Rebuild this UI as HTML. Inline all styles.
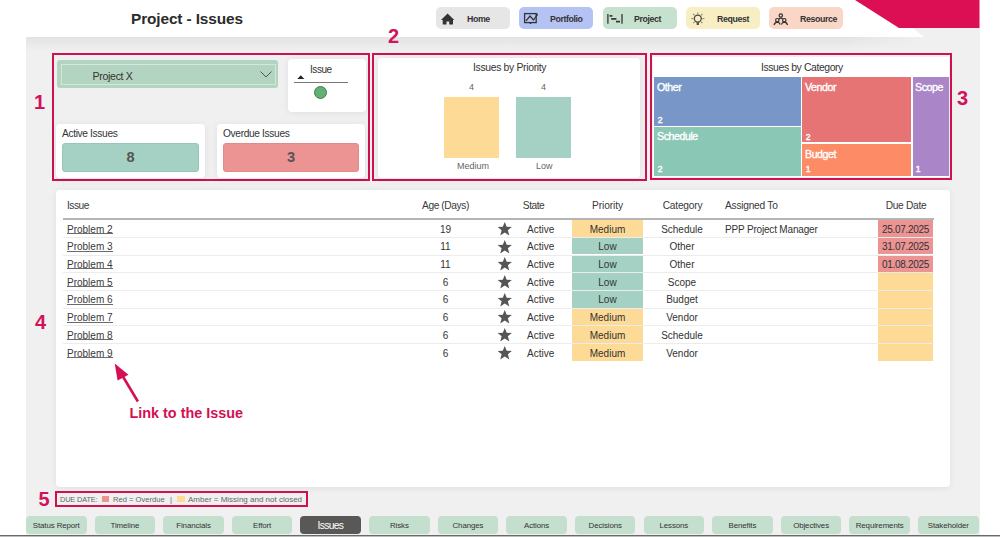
<!DOCTYPE html>
<html><head><meta charset="utf-8">
<style>
*{margin:0;padding:0;box-sizing:border-box}
html,body{width:1000px;height:537px;overflow:hidden;background:#fff;font-family:"Liberation Sans",sans-serif;color:#333}
.a{position:absolute;white-space:nowrap}
.title{left:131px;top:9.5px;font-size:15.4px;letter-spacing:-0.12px;font-weight:bold;color:#2b2b2b}
.nav{top:7px;height:22px;width:74px;border-radius:5px;font-size:8.8px;font-weight:bold;color:#333;letter-spacing:-0.4px}
.nav span{position:absolute;top:6.6px}
.nav svg{position:absolute;left:0;top:0}
.ann{border:2px solid #cf1150}
.num{color:#d2125a;font-weight:bold;font-size:20px;line-height:20px}
.card{background:#fff;border-radius:4px;box-shadow:0 1px 7px rgba(0,0,0,0.07)}
.t10{font-size:10px;color:#333}
.tab{top:516px;height:18px;width:60.5px;border-radius:4px;background:#c4dfce;font-size:7.9px;letter-spacing:-0.1px;color:#333;text-align:center;line-height:20px}
.tm{color:#fff;font-size:10.6px;letter-spacing:-0.42px;margin-top:-0.5px;-webkit-text-stroke:0.35px #fff}
.tmn{color:#fff;font-size:8.6px;margin-top:0.3px;margin-left:0.8px;-webkit-text-stroke:0.4px #fff}
.row{position:absolute;left:63px;width:871px;height:17.7px;font-size:10px;color:#333;line-height:17.7px}
.row div{position:absolute;top:0;height:17px}
.c{text-align:center}
</style></head><body>
<div class="a" style="left:26px;top:28px;width:954px;height:507px;background:#f0f0f0"></div>
<div class="a" style="left:26px;top:37px;width:897px;height:14px;background:linear-gradient(#e3e3e3,#f0f0f0);-webkit-mask-image:linear-gradient(to right,#000 92%,transparent)"></div>
<svg class="a" style="left:0;top:0" width="1000" height="40"><polygon points="0,27.5 912,27.5 924,37 0,37" fill="#fff"/></svg>
<div class="a" style="left:0;top:535px;width:1000px;height:1px;background:#6a6a6a"></div><div class="a" style="left:0;top:536px;width:1000px;height:1px;background:#bdbdbd"></div>

<div class="a title">Project - Issues</div>
<div class="a nav" style="left:436px;background:#e6e6e6"><svg width="74" height="22"><path d="M441,12.5 L447.6,6 L454.3,12.5 Z" fill="#333" transform="translate(-436,0.5)"/><path d="M6.7,12.4 h10.3 v5 h-3.8 v-2.8 h-2.7 v2.8 h-3.8 Z" fill="#333"/></svg><span style="left:31px">Home</span></div>
<div class="a nav" style="left:519px;background:#b4c3f4"><svg width="74" height="22"><rect x="5.6" y="6.6" width="11.6" height="9" fill="none" stroke="#333" stroke-width="1.3"/><polyline points="7,13.8 11,9 14.5,13 18,8" fill="none" stroke="#333" stroke-width="1.3"/><path d="M16.5,7 L19,6.5 L18.5,9 Z" fill="#333"/><rect x="10.8" y="15.8" width="1.4" height="1.2" fill="#333"/></svg><span style="left:31px">Portfolio</span></div>
<div class="a nav" style="left:603px;background:#c7e1cf"><svg width="74" height="22"><g stroke="#333" fill="none"><line x1="4.9" y1="7" x2="4.9" y2="16.8" stroke-width="1.3"/><line x1="19" y1="7" x2="19" y2="16.8" stroke-width="1.3"/><g stroke-width="1.7"><line x1="6.6" y1="8.9" x2="9.4" y2="8.9"/><line x1="8.2" y1="11.9" x2="13.4" y2="11.9"/><line x1="13" y1="14.6" x2="17" y2="14.6"/></g></g></svg><span style="left:31px">Project</span></div>
<div class="a nav" style="left:686px;background:#f8eec4"><svg width="74" height="22"><g fill="none"><circle cx="11.8" cy="11.6" r="3.5" stroke="#444" stroke-width="1.3"/><path d="M10.6,15.2 h2.4 v2.8 h-2.4 Z" fill="#555" stroke="none"/><g stroke="#8a8a7a" stroke-width="1.1"><line x1="11.8" y1="5.6" x2="11.8" y2="7.4"/><line x1="5.2" y1="11.6" x2="7.2" y2="11.6"/><line x1="16.4" y1="11.6" x2="18.4" y2="11.6"/><line x1="7.2" y1="7" x2="8.6" y2="8.4"/><line x1="16.4" y1="7" x2="15" y2="8.4"/><line x1="7.2" y1="16.2" x2="8.6" y2="14.8"/><line x1="16.4" y1="16.2" x2="15" y2="14.8"/></g></g></svg><span style="left:31px">Request</span></div>
<div class="a nav" style="left:769px;background:#fad6c7"><svg width="74" height="22"><g stroke="#333" stroke-width="1.2" fill="none"><circle cx="11.8" cy="8.5" r="1.7"/><circle cx="8.3" cy="13.2" r="1.7"/><circle cx="15.3" cy="13.2" r="1.7"/><path d="M9.8,12 Q11.8,10.3 13.8,12"/><path d="M5,18 Q6,15.3 8.3,15.2 Q10.4,15.3 11.2,17.5"/><path d="M12.4,17.5 Q13.2,15.3 15.3,15.2 Q17.6,15.3 18.6,18"/></g></svg><span style="left:31px">Resource</span></div>
<svg class="a" style="left:0;top:0" width="1000" height="40">
<polygon points="855,0 979.5,0 979.5,28 899,28" fill="#dc0e54"/>
</svg>
<div class="a num" style="left:34px;top:92px">1</div>
<div class="a num" style="left:388px;top:26px">2</div>
<div class="a num" style="left:957px;top:87.5px">3</div>
<div class="a num" style="left:35px;top:312px">4</div>
<div class="a num" style="left:38.5px;top:489px">5</div>
<div class="a ann" style="left:52px;top:53px;width:318px;height:128px"></div>
<div class="a" style="left:57px;top:60px;width:221px;height:28px;background:#b3d4c0;border-radius:3px"></div>
<div class="a" style="left:60.5px;top:63.5px;width:215px;height:21px;border:1.3px solid #d3e7da"></div>
<div class="a t10" style="left:92.5px;top:69.8px;font-size:10.6px;letter-spacing:-0.32px">Project X</div>
<svg class="a" style="left:258px;top:68px" width="16" height="10"><polyline points="2.5,3.5 8,9 13.5,3.5" fill="none" stroke="#555" stroke-width="1"/></svg>
<div class="a card" style="left:288px;top:59px;width:78px;height:53px"></div>
<div class="a" style="left:310px;top:63.6px;font-size:10px;letter-spacing:-0.45px;color:#333">Issue</div>
<svg class="a" style="left:296px;top:74px" width="10" height="6"><polygon points="1.3,5 4.8,1.3 8.3,5" fill="#222"/></svg>
<div class="a" style="left:293.5px;top:82px;width:54px;height:1px;background:#777"></div>
<div class="a" style="left:314px;top:85.5px;width:13px;height:13px;border-radius:50%;background:#62b074;border:1px solid #3f7d4c"></div>
<div class="a card" style="left:56px;top:124px;width:149px;height:54px"></div>
<div class="a t10" style="left:62px;top:127.5px;font-size:10.2px;letter-spacing:-0.35px">Active Issues</div>
<div class="a" style="left:62px;top:143px;width:137px;height:28.5px;background:#a4d1c4;border:1px solid #98c6b9;border-radius:3px;text-align:center;line-height:26px;font-size:14.6px;font-weight:bold;color:#555">8</div>
<div class="a card" style="left:217px;top:124px;width:148px;height:54px"></div>
<div class="a t10" style="left:223px;top:127.5px;font-size:10.2px;letter-spacing:-0.35px">Overdue Issues</div>
<div class="a" style="left:223px;top:143px;width:136px;height:28.5px;background:#ec9393;border:1px solid #e08a8a;border-radius:3px;text-align:center;line-height:26px;font-size:14.6px;font-weight:bold;color:#555">3</div>

<div class="a ann" style="left:372px;top:53px;width:275px;height:128px"></div>
<div class="a card" style="left:378px;top:58px;width:262px;height:120px"></div>
<div class="a t10" style="left:473px;top:61.5px;font-size:10.4px;letter-spacing:-0.33px">Issues by Priority</div>
<div class="a" style="left:444px;top:97px;width:55px;height:61px;background:#fdda96"></div>
<div class="a" style="left:516px;top:97px;width:55px;height:61px;background:#a4d1c4"></div>
<div class="a" style="left:469px;top:82px;font-size:9px;color:#666">4</div>
<div class="a" style="left:541px;top:82px;font-size:9px;color:#666">4</div>
<div class="a" style="left:457px;top:161px;font-size:9px;color:#666">Medium</div>
<div class="a" style="left:536px;top:161px;font-size:9px;color:#666">Low</div>

<div class="a ann" style="left:650px;top:53px;width:302px;height:127px"></div>
<div class="a" style="left:653px;top:57px;width:296px;height:120px;background:#fff"></div>
<div class="a t10" style="left:761px;top:61.5px;font-size:10.4px;letter-spacing:-0.39px">Issues by Category</div>
<div class="a" style="left:654px;top:77px;width:147px;height:49px;background:#7897c8"></div>
<div class="a" style="left:654px;top:127px;width:147px;height:49px;background:#8ac7b4"></div>
<div class="a" style="left:802px;top:77px;width:109px;height:65px;background:#e67474"></div>
<div class="a" style="left:802px;top:143.5px;width:109px;height:32.5px;background:#fc8b66"></div>
<div class="a" style="left:913px;top:77px;width:35.5px;height:99px;background:#aa85c8"></div>
<div class="a tm" style="left:657px;top:81px">Other</div>
<div class="a tmn" style="left:657px;top:115px">2</div>
<div class="a tm" style="left:657px;top:130px">Schedule</div>
<div class="a tmn" style="left:657px;top:164px">2</div>
<div class="a tm" style="left:805px;top:81px">Vendor</div>
<div class="a tmn" style="left:805px;top:131.5px">2</div>
<div class="a tm" style="left:805px;top:148px">Budget</div>
<div class="a tmn" style="left:805px;top:164px">1</div>
<div class="a tm" style="left:915px;top:81px">Scope</div>
<div class="a tmn" style="left:915px;top:164px">1</div>

<div class="a card" style="left:56px;top:190px;width:894px;height:297px"></div>
<div class="a" style="left:63px;top:218px;width:871px;height:2px;background:#b5b5b5"></div>
<div class="a t10" style="left:67px;top:199.8px;font-size:10.2px;letter-spacing:-0.5px;color:#3a3a3a">Issue</div>
<div class="a t10 c" style="left:405.5px;width:80px;top:199.8px;font-size:10.2px;letter-spacing:-0.4px;color:#3a3a3a">Age (Days)</div>
<div class="a t10 c" style="left:493.5px;width:80px;top:199.8px;font-size:10.2px;letter-spacing:-0.5px;color:#3a3a3a">State</div>
<div class="a t10 c" style="left:567.5px;width:80px;top:199.8px;font-size:10.2px;letter-spacing:-0.1px;color:#3a3a3a">Priority</div>
<div class="a t10 c" style="left:642.5px;width:80px;top:199.8px;font-size:10.2px;letter-spacing:-0.2px;color:#3a3a3a">Category</div>
<div class="a t10" style="left:725px;top:199.8px;font-size:10.2px;letter-spacing:-0.25px;color:#3a3a3a">Assigned To</div>
<div class="a t10 c" style="left:866px;width:80px;top:199.8px;font-size:10.2px;letter-spacing:-0.29px;color:#3a3a3a">Due Date</div>
<div class="a" style="left:572px;top:220.10px;width:71px;height:16.7px;background:#fdda96"></div>
<div class="a" style="left:878px;top:220.10px;width:55px;height:16.7px;background:#ec9393"></div>
<div class="a" style="left:67px;top:223.60px;font-size:10px;color:#3a3a3a">Problem 2</div>
<div class="a" style="left:67px;top:233.00px;width:45.5px;height:1px;background:#6a6a6a"></div>
<div class="a c" style="left:425.5px;width:40px;top:223.60px;font-size:10px;color:#333">19</div>
<div class="a" style="left:496.5px;top:220.80px;line-height:0"><svg width="15.5" height="15.5" viewBox="0 0 24 24"><path d="M12,1.5 L15,9 L23,9.3 L16.8,14.3 L19,22.3 L12,17.8 L5,22.3 L7.2,14.3 L1,9.3 L9,9 Z" fill="#555"/></svg></div>
<div class="a" style="left:527px;top:223.60px;font-size:10px;color:#333">Active</div>
<div class="a c" style="left:572px;width:71px;top:223.60px;font-size:10px;color:#333">Medium</div>
<div class="a c" style="left:642px;width:80px;top:223.60px;font-size:10px;color:#333">Schedule</div>
<div class="a" style="left:725px;top:223.60px;font-size:10px;letter-spacing:-0.18px;color:#333">PPP Project Manager</div>
<div class="a c" style="left:878px;width:55px;top:223.60px;font-size:10px;letter-spacing:-0.3px;color:#333">25.07.2025</div>
<div class="a" style="left:63px;top:236.80px;width:871px;height:1px;background:#ececec"></div>
<div class="a" style="left:572px;top:237.80px;width:71px;height:16.7px;background:#a4d1c4"></div>
<div class="a" style="left:878px;top:237.80px;width:55px;height:16.7px;background:#ec9393"></div>
<div class="a" style="left:67px;top:241.30px;font-size:10px;color:#3a3a3a">Problem 3</div>
<div class="a" style="left:67px;top:250.70px;width:45.5px;height:1px;background:#6a6a6a"></div>
<div class="a c" style="left:425.5px;width:40px;top:241.30px;font-size:10px;color:#333">11</div>
<div class="a" style="left:496.5px;top:238.50px;line-height:0"><svg width="15.5" height="15.5" viewBox="0 0 24 24"><path d="M12,1.5 L15,9 L23,9.3 L16.8,14.3 L19,22.3 L12,17.8 L5,22.3 L7.2,14.3 L1,9.3 L9,9 Z" fill="#555"/></svg></div>
<div class="a" style="left:527px;top:241.30px;font-size:10px;color:#333">Active</div>
<div class="a c" style="left:572px;width:71px;top:241.30px;font-size:10px;color:#333">Low</div>
<div class="a c" style="left:642px;width:80px;top:241.30px;font-size:10px;color:#333">Other</div>
<div class="a c" style="left:878px;width:55px;top:241.30px;font-size:10px;letter-spacing:-0.3px;color:#333">31.07.2025</div>
<div class="a" style="left:63px;top:254.50px;width:871px;height:1px;background:#ececec"></div>
<div class="a" style="left:572px;top:255.50px;width:71px;height:16.7px;background:#a4d1c4"></div>
<div class="a" style="left:878px;top:255.50px;width:55px;height:16.7px;background:#ec9393"></div>
<div class="a" style="left:67px;top:259.00px;font-size:10px;color:#3a3a3a">Problem 4</div>
<div class="a" style="left:67px;top:268.40px;width:45.5px;height:1px;background:#6a6a6a"></div>
<div class="a c" style="left:425.5px;width:40px;top:259.00px;font-size:10px;color:#333">11</div>
<div class="a" style="left:496.5px;top:256.20px;line-height:0"><svg width="15.5" height="15.5" viewBox="0 0 24 24"><path d="M12,1.5 L15,9 L23,9.3 L16.8,14.3 L19,22.3 L12,17.8 L5,22.3 L7.2,14.3 L1,9.3 L9,9 Z" fill="#555"/></svg></div>
<div class="a" style="left:527px;top:259.00px;font-size:10px;color:#333">Active</div>
<div class="a c" style="left:572px;width:71px;top:259.00px;font-size:10px;color:#333">Low</div>
<div class="a c" style="left:642px;width:80px;top:259.00px;font-size:10px;color:#333">Other</div>
<div class="a c" style="left:878px;width:55px;top:259.00px;font-size:10px;letter-spacing:-0.3px;color:#333">01.08.2025</div>
<div class="a" style="left:63px;top:272.20px;width:871px;height:1px;background:#ececec"></div>
<div class="a" style="left:572px;top:273.20px;width:71px;height:16.7px;background:#a4d1c4"></div>
<div class="a" style="left:878px;top:273.20px;width:55px;height:16.7px;background:#fdda96"></div>
<div class="a" style="left:67px;top:276.70px;font-size:10px;color:#3a3a3a">Problem 5</div>
<div class="a" style="left:67px;top:286.10px;width:45.5px;height:1px;background:#6a6a6a"></div>
<div class="a c" style="left:425.5px;width:40px;top:276.70px;font-size:10px;color:#333">6</div>
<div class="a" style="left:496.5px;top:273.90px;line-height:0"><svg width="15.5" height="15.5" viewBox="0 0 24 24"><path d="M12,1.5 L15,9 L23,9.3 L16.8,14.3 L19,22.3 L12,17.8 L5,22.3 L7.2,14.3 L1,9.3 L9,9 Z" fill="#555"/></svg></div>
<div class="a" style="left:527px;top:276.70px;font-size:10px;color:#333">Active</div>
<div class="a c" style="left:572px;width:71px;top:276.70px;font-size:10px;color:#333">Low</div>
<div class="a c" style="left:642px;width:80px;top:276.70px;font-size:10px;color:#333">Scope</div>
<div class="a" style="left:63px;top:289.90px;width:871px;height:1px;background:#ececec"></div>
<div class="a" style="left:572px;top:290.90px;width:71px;height:16.7px;background:#a4d1c4"></div>
<div class="a" style="left:878px;top:290.90px;width:55px;height:16.7px;background:#fdda96"></div>
<div class="a" style="left:67px;top:294.40px;font-size:10px;color:#3a3a3a">Problem 6</div>
<div class="a" style="left:67px;top:303.80px;width:45.5px;height:1px;background:#6a6a6a"></div>
<div class="a c" style="left:425.5px;width:40px;top:294.40px;font-size:10px;color:#333">6</div>
<div class="a" style="left:496.5px;top:291.60px;line-height:0"><svg width="15.5" height="15.5" viewBox="0 0 24 24"><path d="M12,1.5 L15,9 L23,9.3 L16.8,14.3 L19,22.3 L12,17.8 L5,22.3 L7.2,14.3 L1,9.3 L9,9 Z" fill="#555"/></svg></div>
<div class="a" style="left:527px;top:294.40px;font-size:10px;color:#333">Active</div>
<div class="a c" style="left:572px;width:71px;top:294.40px;font-size:10px;color:#333">Low</div>
<div class="a c" style="left:642px;width:80px;top:294.40px;font-size:10px;color:#333">Budget</div>
<div class="a" style="left:63px;top:307.60px;width:871px;height:1px;background:#ececec"></div>
<div class="a" style="left:572px;top:308.60px;width:71px;height:16.7px;background:#fdda96"></div>
<div class="a" style="left:878px;top:308.60px;width:55px;height:16.7px;background:#fdda96"></div>
<div class="a" style="left:67px;top:312.10px;font-size:10px;color:#3a3a3a">Problem 7</div>
<div class="a" style="left:67px;top:321.50px;width:45.5px;height:1px;background:#6a6a6a"></div>
<div class="a c" style="left:425.5px;width:40px;top:312.10px;font-size:10px;color:#333">6</div>
<div class="a" style="left:496.5px;top:309.30px;line-height:0"><svg width="15.5" height="15.5" viewBox="0 0 24 24"><path d="M12,1.5 L15,9 L23,9.3 L16.8,14.3 L19,22.3 L12,17.8 L5,22.3 L7.2,14.3 L1,9.3 L9,9 Z" fill="#555"/></svg></div>
<div class="a" style="left:527px;top:312.10px;font-size:10px;color:#333">Active</div>
<div class="a c" style="left:572px;width:71px;top:312.10px;font-size:10px;color:#333">Medium</div>
<div class="a c" style="left:642px;width:80px;top:312.10px;font-size:10px;color:#333">Vendor</div>
<div class="a" style="left:63px;top:325.30px;width:871px;height:1px;background:#ececec"></div>
<div class="a" style="left:572px;top:326.30px;width:71px;height:16.7px;background:#fdda96"></div>
<div class="a" style="left:878px;top:326.30px;width:55px;height:16.7px;background:#fdda96"></div>
<div class="a" style="left:67px;top:329.80px;font-size:10px;color:#3a3a3a">Problem 8</div>
<div class="a" style="left:67px;top:339.20px;width:45.5px;height:1px;background:#6a6a6a"></div>
<div class="a c" style="left:425.5px;width:40px;top:329.80px;font-size:10px;color:#333">6</div>
<div class="a" style="left:496.5px;top:327.00px;line-height:0"><svg width="15.5" height="15.5" viewBox="0 0 24 24"><path d="M12,1.5 L15,9 L23,9.3 L16.8,14.3 L19,22.3 L12,17.8 L5,22.3 L7.2,14.3 L1,9.3 L9,9 Z" fill="#555"/></svg></div>
<div class="a" style="left:527px;top:329.80px;font-size:10px;color:#333">Active</div>
<div class="a c" style="left:572px;width:71px;top:329.80px;font-size:10px;color:#333">Medium</div>
<div class="a c" style="left:642px;width:80px;top:329.80px;font-size:10px;color:#333">Schedule</div>
<div class="a" style="left:63px;top:343.00px;width:871px;height:1px;background:#ececec"></div>
<div class="a" style="left:572px;top:344.00px;width:71px;height:16.7px;background:#fdda96"></div>
<div class="a" style="left:878px;top:344.00px;width:55px;height:16.7px;background:#fdda96"></div>
<div class="a" style="left:67px;top:347.50px;font-size:10px;color:#3a3a3a">Problem 9</div>
<div class="a" style="left:67px;top:356.90px;width:45.5px;height:1px;background:#6a6a6a"></div>
<div class="a c" style="left:425.5px;width:40px;top:347.50px;font-size:10px;color:#333">6</div>
<div class="a" style="left:496.5px;top:344.70px;line-height:0"><svg width="15.5" height="15.5" viewBox="0 0 24 24"><path d="M12,1.5 L15,9 L23,9.3 L16.8,14.3 L19,22.3 L12,17.8 L5,22.3 L7.2,14.3 L1,9.3 L9,9 Z" fill="#555"/></svg></div>
<div class="a" style="left:527px;top:347.50px;font-size:10px;color:#333">Active</div>
<div class="a c" style="left:572px;width:71px;top:347.50px;font-size:10px;color:#333">Medium</div>
<div class="a c" style="left:642px;width:80px;top:347.50px;font-size:10px;color:#333">Vendor</div>
<svg class="a" style="left:0;top:0" width="300" height="430">
<line x1="137.9" y1="401.5" x2="122" y2="375" stroke="#d40f55" stroke-width="2.6"/>
<polygon points="114.7,363.6 117.6,380.4 128.5,374.8" fill="#d40f55"/>
</svg>
<div class="a" style="left:129.5px;top:405px;font-size:14.4px;font-weight:bold;color:#d40f55">Link to the Issue</div>

<div class="a ann" style="left:55px;top:491px;width:253px;height:16px"></div>
<div class="a" style="left:60px;top:494.8px;font-size:7.4px;letter-spacing:-0.15px;color:#666">DUE DATE:</div>
<div class="a" style="left:102.3px;top:495.5px;width:7.2px;height:6.3px;background:#ec9393"></div>
<div class="a" style="left:113px;top:494.8px;font-size:7.6px;color:#666">Red = Overdue</div>
<div class="a" style="left:170px;top:494.8px;font-size:7.6px;color:#666">|</div>
<div class="a" style="left:177.3px;top:495.5px;width:7.5px;height:6.3px;background:#fdda96"></div>
<div class="a" style="left:188px;top:494.8px;font-size:8px;color:#666">Amber = Missing and not closed</div>

<div class="a tab" style="left:26.00px">Status Report</div>
<div class="a tab" style="left:94.62px">Timeline</div>
<div class="a tab" style="left:163.24px">Financials</div>
<div class="a tab" style="left:231.86px">Effort</div>
<div class="a tab" style="left:300.48px;background:#595856;color:#fff;font-size:10.4px;letter-spacing:-0.7px;line-height:20px;text-indent:-0.7px">Issues</div>
<div class="a tab" style="left:369.10px">Risks</div>
<div class="a tab" style="left:437.72px">Changes</div>
<div class="a tab" style="left:506.34px">Actions</div>
<div class="a tab" style="left:574.96px">Decisions</div>
<div class="a tab" style="left:643.58px">Lessons</div>
<div class="a tab" style="left:712.20px">Benefits</div>
<div class="a tab" style="left:780.82px">Objectives</div>
<div class="a tab" style="left:849.44px">Requirements</div>
<div class="a tab" style="left:918.06px">Stakeholder</div>
</body></html>
